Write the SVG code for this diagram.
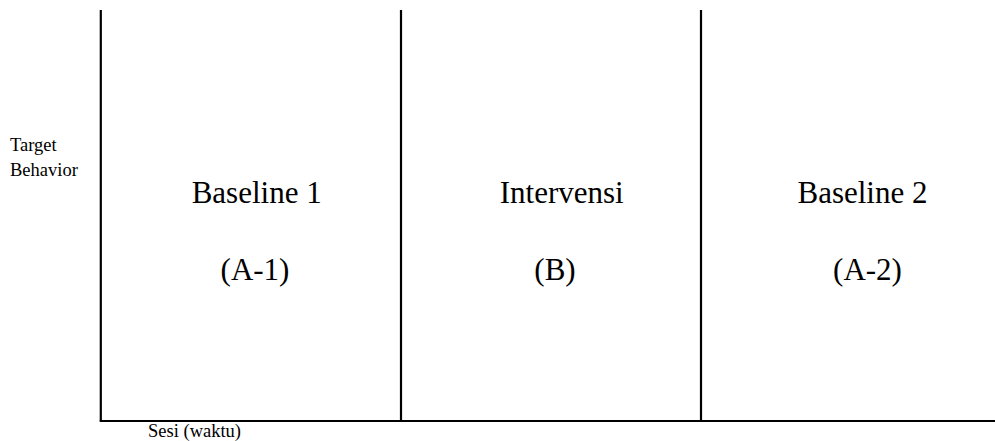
<svg xmlns="http://www.w3.org/2000/svg" width="995" height="441" viewBox="0 0 995 441">
<style>
.ln{stroke:#000;stroke-width:2.2;fill:none}
.big{font-family:"Liberation Serif","Times New Roman",serif;font-size:31px;fill:#000;text-anchor:middle}
.sm{font-family:"Liberation Serif","Times New Roman",serif;font-size:18.5px;fill:#000}
</style>
<rect width="995" height="441" fill="#fff"/>
<g id="connectors">
<line class="ln" x1="100.8" y1="10" x2="100.8" y2="421"/>
<line class="ln" x1="99.7" y1="421" x2="995" y2="421"/>
<line class="ln" x1="401" y1="10" x2="401" y2="421"/>
<line class="ln" x1="701" y1="10" x2="701" y2="421"/>
</g>
<g id="y-label">
<text class="sm" x="10" y="150.7">Target</text>
<text class="sm" x="10" y="175.7">Behavior</text>
</g>
<g id="x-label">
<text class="sm" x="148" y="437.3">Sesi (waktu)</text>
</g>
<g id="baseline1">
<text class="big" x="256.7" y="203.3">Baseline 1</text>
<text class="big" x="255" y="280">(A-1)</text>
</g>
<g id="intervensi">
<text class="big" x="561.7" y="203.3">Intervensi</text>
<text class="big" x="555" y="280">(B)</text>
</g>
<g id="baseline2">
<text class="big" x="862.5" y="203.3">Baseline 2</text>
<text class="big" x="867.5" y="280">(A-2)</text>
</g>
</svg>
